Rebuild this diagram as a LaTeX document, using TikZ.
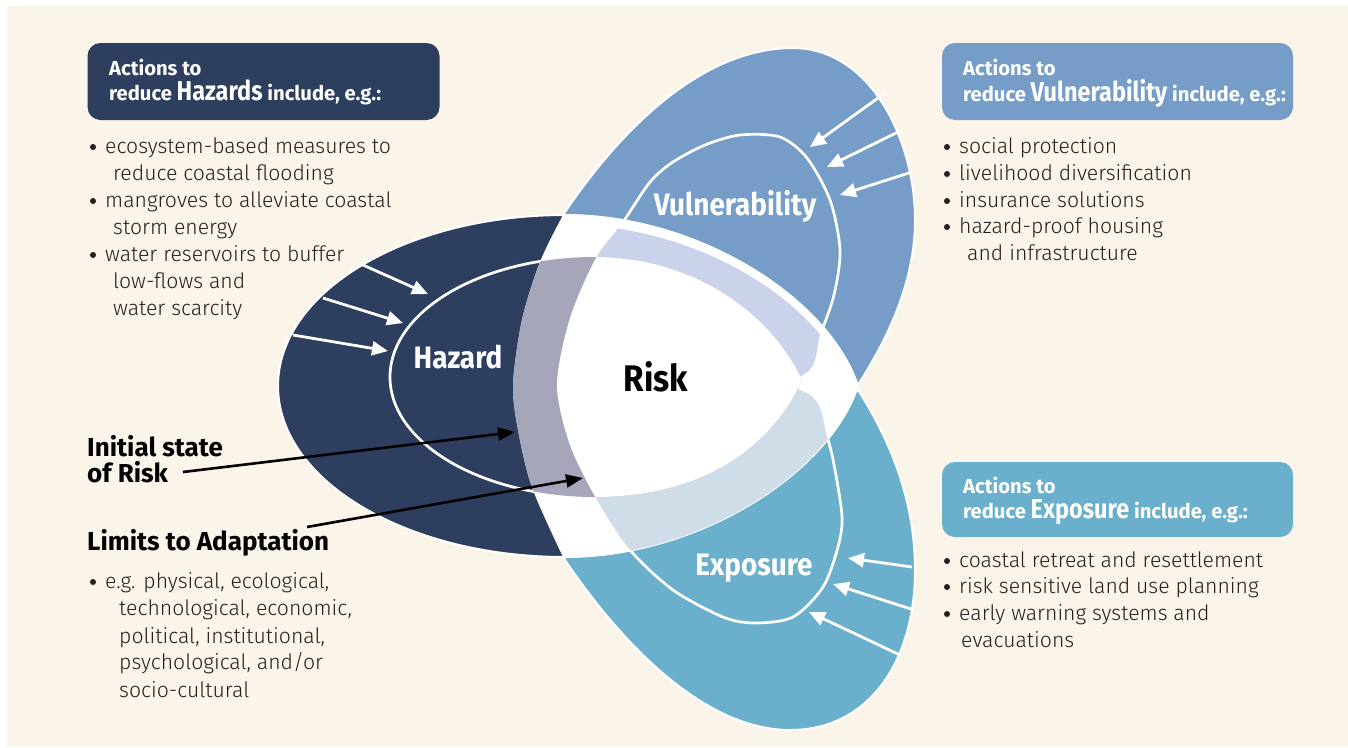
\documentclass[tikz,border=0pt]{standalone}
\usepackage{fontspec}
\setmainfont{Fira Sans}
\newfontfamily\condf{Fira Sans}[FakeStretch=0.9]
\newfontfamily\hcondf{Fira Sans}[FakeStretch=0.86]
\IfFontExistsTF{Fira Sans Light}{\newfontfamily\lightf{Fira Sans Light}}{\newfontfamily\lightf{Fira Sans}}
\usetikzlibrary{arrows.meta}
\definecolor{cream}{HTML}{FAF4E9}
\definecolor{navy}{HTML}{2D3E5F}
\definecolor{vblue}{HTML}{759DC8}
\definecolor{eteal}{HTML}{6AAFCB}
\definecolor{lav}{HTML}{CAD3EA}
\definecolor{grayband}{HTML}{A5A6B9}
\definecolor{lteal}{HTML}{CFDDE9}
\definecolor{txt}{HTML}{231F20}
\def\Hout{(565,215) .. controls (700,215) and (830,300) .. (858,386) .. controls (830,472) and (700,557) .. (565,557) .. controls (406.5,557) and (278,480.4) .. (278,386) .. controls (278,291.6) and (406.5,215) .. (565,215) -- cycle}
\def\Vout{(563,215) .. controls (620,130) and (700,50) .. (790,48) .. controls (870,46) and (915,140) .. (915,220) .. controls (915,290) and (880,350) .. (858,385) -- (700,320) -- cycle}
\def\Eout{(858,390) .. controls (890,440) and (915,500) .. (915,570) .. controls (915,660) and (870,730) .. (790,730) .. controls (700,730) and (615,635) .. (563,557) -- (700,450) -- cycle}
\def\Vin{plot[smooth cycle] coordinates {(557,385) (570,318) (596,258) (623,222) (650,182) (673,162) (705,145) (740,135) (780,137) (807,158) (830,200) (840,250) (834,295) (820,335) (803,375) (700,398) (600,400)}}
\def\Ein{plot[smooth cycle] coordinates {(557,385) (570,445) (597,500) (630,550) (673,590) (723,617) (755,623) (793,617) (823,587) (838,547) (842,517) (835,470) (827,437) (807,393) (700,368) (600,368)}}
\def\Hin{(595,257) .. controls (481.8,257) and (390,310.7) .. (390,377) .. controls (390,443.3) and (481.8,497) .. (595,497) .. controls (700,497) and (770,450) .. (802,380) .. controls (775,320) and (700,257) .. (595,257) -- cycle}
\def\RL{plot[smooth] coordinates {(580,185) (563,215) (540,262) (522,320) (513,387) (520,440) (533,490) (563,557) (580,590)} -- (1000,590) -- (1000,185) -- cycle}
\def\RK{plot[smooth] coordinates {(650,182) (623,222) (596,258) (570,318) (557,385) (570,445) (597,500) (630,550) (673,590)} -- (1000,590) -- (1000,182) -- cycle}
\def\BU{(560,224) .. controls (700,224) and (824,304) .. (852,390) -- (900,600) -- (500,600) -- (500,224) -- cycle}
\tikzset{
  outerline/.style={draw=white, line width=2pt},
  innerline/.style={draw=white, line width=2.7pt},
  body/.style={anchor=base west, inner sep=0pt, text=txt, font=\lightf\fontsize{21.2}{24}\selectfont},
  bul/.style={circle, fill=txt, inner sep=0pt, minimum size=6pt},
  hd/.style={anchor=base west, inner sep=0pt, text=white, font=\bfseries\fontsize{20.2}{24}\selectfont},
  lbl/.style={anchor=base, inner sep=0pt, text=white, font=\condf\bfseries\fontsize{31}{34}\selectfont},
  callout/.style={anchor=base west, inner sep=0pt, text=black, font=\bfseries\fontsize{26}{28}\selectfont},
  box/.style={rounded corners=13pt, minimum width=352pt, minimum height=77pt, inner sep=0pt},
  warrow/.style={draw=white, line width=2.8pt, -{Triangle[length=16pt,width=14pt]}},
  barrow/.style={draw=black, line width=2.6pt, -{Triangle[length=17pt,width=13pt]}}
}
\newcommand{\bigw}[1]{{\hcondf\bfseries\fontsize{27.3}{29}\selectfont #1}}
\begin{document}
\begin{tikzpicture}[x=1pt,y=-1pt]
\useasboundingbox (0,0) rectangle (1348,747);
\fill[white] (0,0) rectangle (1348,747);
\fill[cream] (7,6) rectangle (1348,747);
% outer shapes
\fill[vblue] \Vout;
\draw[outerline] \Vout;
\draw[innerline] \Vin;
\fill[eteal] \Eout;
\draw[outerline] \Eout;
\draw[innerline] \Ein;
\fill[navy] \Hout;
\draw[outerline] \Hout;
\draw[innerline] \Hin;
% overlap region
\begin{scope}
  \clip \Hout;
  \fill[white] \RL;
\end{scope}
\begin{scope}
  \clip \Hout;
  \clip \Vin;
  \clip \BU;
  \fill[lav] (500,100) rectangle (900,600);
\end{scope}
\begin{scope}
  \clip \Hout;
  \clip \Ein;
  \fill[lteal] (500,100) rectangle (900,600);
\end{scope}
\begin{scope}
  \clip \Hin;
  \clip \RL;
  \fill[grayband] (300,200) rectangle (900,600);
\end{scope}
\begin{scope}
  \clip \Hin;
  \fill[white] \RK;
\end{scope}
% labels in shapes
\node[lbl] (lhaz) at (458,368) {Hazard};
\node[lbl] (lvul) at (735,215) {Vulnerability};
\node[lbl] (lexp) at (754,575) {Exposure};
\node[lbl, text=black, font=\condf\bfseries\fontsize{37}{40}\selectfont] (lrisk) at (656,391) {Risk};
% white arrows
\coordinate (ha1s) at (363,265); \coordinate (ha1e) at (428,294);
\coordinate (ha2s) at (323,298); \coordinate (ha2e) at (403,323);
\coordinate (ha3s) at (293,335); \coordinate (ha3e) at (388,351);
\coordinate (va1s) at (885,93);  \coordinate (va1e) at (810,147);
\coordinate (va2s) at (902,130); \coordinate (va2e) at (827,167);
\coordinate (va3s) at (912,172); \coordinate (va3e) at (840,195);
\coordinate (ea1s) at (912,567); \coordinate (ea1e) at (848,558);
\coordinate (ea2s) at (911,609); \coordinate (ea2e) at (833,584);
\coordinate (ea3s) at (900,655); \coordinate (ea3e) at (809,612);
\foreach \a in {ha1,ha2,ha3,va1,va2,va3,ea1,ea2,ea3} {\draw[warrow] (\a s) -- (\a e);}
% boxes
\node[box, fill=navy] (hbox) at (263.5,81.5) {};
\node[box, fill=vblue, minimum width=351pt] (vbox) at (1117.5,81.5) {};
\node[box, fill=eteal, minimum width=351pt, minimum height=75pt] (ebox) at (1117.5,499.5) {};
\node[hd] (h1) at (109,75) {Actions to};
\node[hd] (h2) at (109,100) {reduce \bigw{Hazards} include, e.g.:};
\node[hd] (v1) at (963,75) {Actions to};
\node[hd] (v2) at (963,101) {reduce \bigw{Vulnerability} include, e.g.:};
\node[hd] (e1) at (963,493) {Actions to};
\node[hd] (e2) at (963,518) {reduce \bigw{Exposure} include, e.g.:};
% hazard list
\node[bul] (hb1) at (93,147) {};
\node[body] (ht1) at (105,153) {ecosystem-based measures to};
\node[body] (ht2) at (113,180) {reduce coastal flooding};
\node[bul] (hb2) at (93,201) {};
\node[body] (ht3) at (105,207) {mangroves to alleviate coastal};
\node[body] (ht4) at (113,234) {storm energy};
\node[bul] (hb3) at (93,255) {};
\node[body] (ht5) at (105,261) {water reservoirs to buffer};
\node[body] (ht6) at (113,288) {low-flows and};
\node[body] (ht7) at (113,315) {water scarcity};
% vulnerability list
\node[bul] (vb1) at (947,147) {};
\node[body] (vt1) at (959,153) {social protection};
\node[bul] (vb2) at (947,174) {};
\node[body] (vt2) at (959,180) {livelihood diversification};
\node[bul] (vb3) at (947,201) {};
\node[body] (vt3) at (959,207) {insurance solutions};
\node[bul] (vb4) at (947,227) {};
\node[body] (vt4) at (959,233) {hazard-proof housing};
\node[body] (vt5) at (967,260) {and infrastructure};
% exposure list
\node[bul] (eb1) at (947,561) {};
\node[body] (et1) at (959,567) {coastal retreat and resettlement};
\node[bul] (eb2) at (947,587) {};
\node[body] (et2) at (959,593) {risk sensitive land use planning};
\node[bul] (eb3) at (947,614) {};
\node[body] (et3) at (959,620) {early warning systems and};
\node[body] (et4) at (961,647) {evacuations};
% callouts
\node[callout] (init1) at (87,456) {Initial state};
\node[callout] (init2) at (87,482) {of Risk};
\node[callout] (lim) at (87,550) {Limits to Adaptation};
\node[bul] (lb1) at (93,582) {};
\node[body] (lt1) at (105,588) {e.g. physical, ecological,};
\node[body] (lt2) at (119,615) {technological, economic,};
\node[body] (lt3) at (119,643) {political, institutional,};
\node[body] (lt4) at (119,669) {psychological, and/or};
\node[body] (lt5) at (119,697) {socio-cultural};
\coordinate (ias) at (183,472); \coordinate (iae) at (515,432);
\coordinate (las) at (307,527); \coordinate (lae) at (583,478);
\draw[barrow] (ias) -- (iae);
\draw[barrow] (las) -- (lae);
\end{tikzpicture}
\end{document}
